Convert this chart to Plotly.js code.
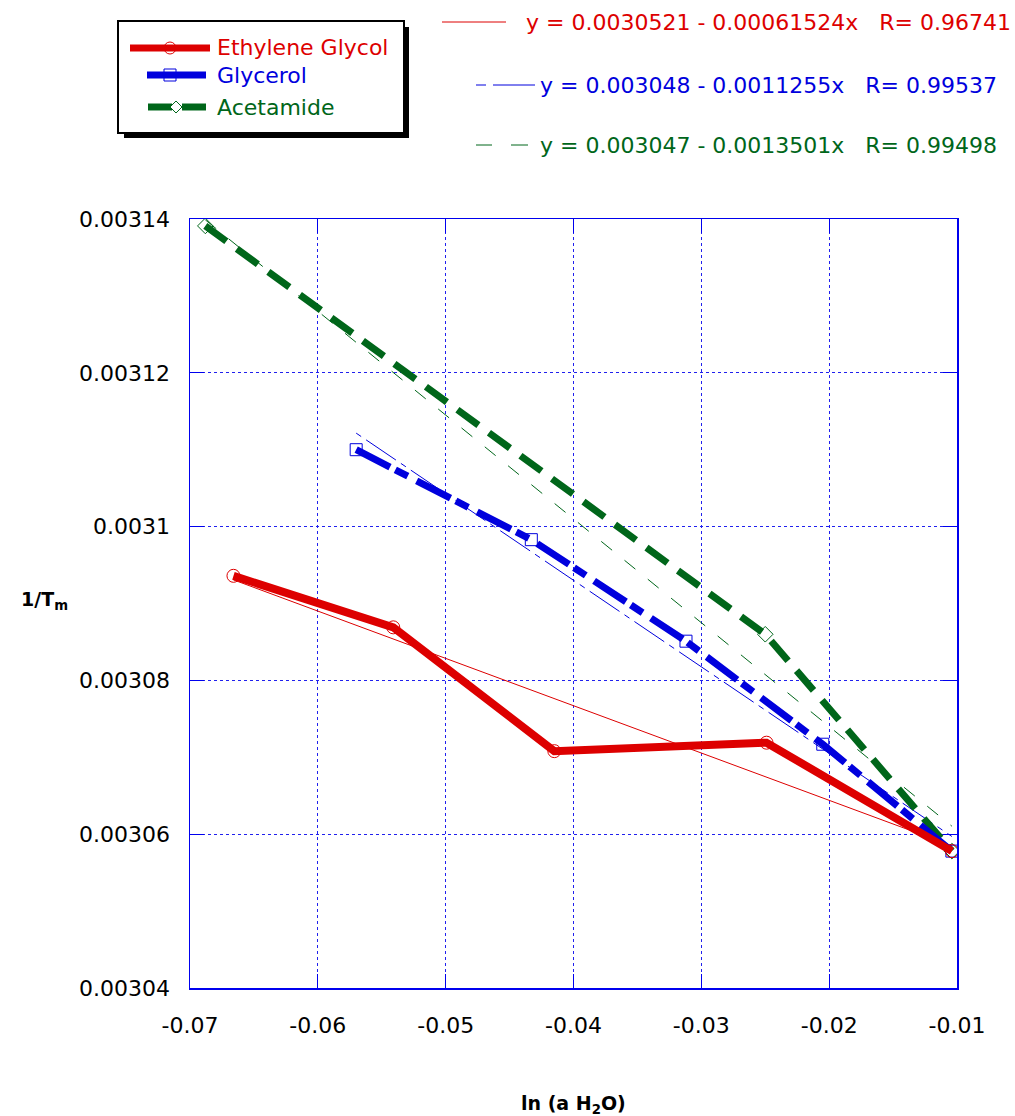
<!DOCTYPE html>
<html><head><meta charset="utf-8">
<script src="https://cdn.plot.ly/plotly-3.0.1.min.js"></script>
<style>html,body{margin:0;padding:0;background:#fff}</style>
</head><body><div id="chart" style="width:1015px;height:1116px"></div>
<script>
// ---- data ----
const seriesNames = ["Ethylene Glycol", "Glycerol", "Acetamide"];
const egX = [-0.0666, -0.0541, -0.0415, -0.0249, -0.0104];
const egY = [0.0030936, 0.0030869, 0.0030708, 0.0030719, 0.0030578];
const glX = [-0.0570, -0.0433, -0.0312, -0.0205, -0.0104];
const glY = [0.0031100, 0.0030983, 0.0030851, 0.0030717, 0.0030578];
const acX = [-0.0688, -0.0250, -0.0104];
const acY = [0.0031391, 0.0030860, 0.0030578];
const fitIntercept = [0.0030521, 0.003048, 0.003047];
const fitSlopeAbs = [0.00061524, 0.0011255, 0.0013501];
const fitR = [0.96741, 0.99537, 0.99498];
const xTicks = [-0.07, -0.06, -0.05, -0.04, -0.03, -0.02, -0.01];
const xTickText = ["-0.07", "-0.06", "-0.05", "-0.04", "-0.03", "-0.02", "-0.01"];
const yTicks = [0.00304, 0.00306, 0.00308, 0.0031, 0.00312, 0.00314];
const yTickText = ["0.00304", "0.00306", "0.00308", "0.0031", "0.00312", "0.00314"];

// ---- styling ----
const RED = "#dd0000", BLUE = "#0000dd", GREEN = "#00661a";
const colors = [RED, BLUE, GREEN];
const FONT = "DejaVu Sans, Liberation Sans, Arial, sans-serif";
const W = 1015, H = 1116, PL = 190, PT = 219, PW = 767, PH = 769;
const px = x => (x - PL) / PW;
const py = y => (PT + PH - y) / PH;

const xs = [egX, glX, acX];
const fitDash = ["solid", "6px,6px,36px,6px", "14px,16px"];
const traces = [];
// regression lines (thin), drawn from the stated equations over each series' range
for (let i = 0; i < 3; i++) {
  const x0 = Math.min(...xs[i]), x1 = Math.max(...xs[i]);
  traces.push({
    x: [x0, x1],
    y: [fitIntercept[i] - fitSlopeAbs[i] * x0, fitIntercept[i] - fitSlopeAbs[i] * x1],
    mode: "lines", line: {color: colors[i], width: 1, dash: fitDash[i]},
    showlegend: false, hoverinfo: "skip"
  });
}
traces.push({x: acX, y: acY, name: seriesNames[2], mode: "lines+markers",
  line: {color: GREEN, width: 7, dash: "26px,13px"},
  marker: {symbol: "diamond-open", size: 12, color: GREEN, line: {width: 1}}, showlegend: false});
traces.push({x: glX, y: glY, name: seriesNames[1], mode: "lines+markers",
  line: {color: BLUE, width: 7, dash: "38px,6px,14px,10px"},
  marker: {symbol: "square-open", size: 12, color: BLUE, line: {width: 1}}, showlegend: false});
traces.push({x: egX, y: egY, name: seriesNames[0], mode: "lines+markers",
  line: {color: RED, width: 8},
  marker: {symbol: "circle-open", size: 13, color: RED, line: {width: 1}}, showlegend: false});

const shapes = [];
const line = (x0, y0, x1, y1, color, width) => shapes.push({type: "line", xref: "paper", yref: "paper",
  x0: px(x0), y0: py(y0), x1: px(x1), y1: py(y1), line: {color: color, width: width}});
// legend box with shadow
shapes.push({type: "rect", xref: "paper", yref: "paper", x0: px(124), x1: px(409), y0: py(27), y1: py(138),
  fillcolor: "#000", line: {width: 0}});
shapes.push({type: "rect", xref: "paper", yref: "paper", x0: px(118), x1: px(404), y0: py(21), y1: py(133),
  fillcolor: "#fff", line: {color: "#000", width: 2}});
// legend samples
line(130, 48, 210, 48, RED, 7);
shapes.push({type: "circle", xref: "paper", yref: "paper", x0: px(164), x1: px(176), y0: py(42), y1: py(54),
  line: {color: RED, width: 1}});
line(147, 75, 206, 75, BLUE, 7);
shapes.push({type: "rect", xref: "paper", yref: "paper", x0: px(164), x1: px(176), y0: py(69), y1: py(81),
  line: {color: BLUE, width: 1}});
line(148, 107, 172, 107, GREEN, 7);
line(182, 107, 206, 107, GREEN, 7);
const dpath = `M${px(170)},${py(107)} L${px(176)},${py(101)} L${px(182)},${py(107)} L${px(176)},${py(113)} Z`;
shapes.push({type: "path", xref: "paper", yref: "paper", path: dpath, fillcolor: "#fff", line: {color: GREEN, width: 1}});
// equation samples
line(442, 22, 506, 22, RED, 1);
line(476, 85, 486, 85, BLUE, 1);
line(493, 85, 535, 85, BLUE, 1);
line(476, 145, 492, 145, GREEN, 1);
line(511, 145, 528, 145, GREEN, 1);

const sp = "\u00a0";
const annotations = [];
const legY = [48, 75, 107];
for (let i = 0; i < 3; i++) {
  annotations.push({xref: "paper", yref: "paper", x: px(215), y: py(legY[i]), xanchor: "left", yanchor: "middle",
    text: seriesNames[i], showarrow: false, font: {family: FONT, size: 22, color: colors[i]}});
}
const eqX = [524, 538, 538], eqY = [22, 85, 145];
for (let i = 0; i < 3; i++) {
  annotations.push({xref: "paper", yref: "paper", x: px(eqX[i]), y: py(eqY[i]), xanchor: "left", yanchor: "middle",
    text: `y${sp}=${sp}${fitIntercept[i]}${sp}-${sp}${fitSlopeAbs[i]}x${sp}${sp}${sp}R=${sp}${fitR[i]}`,
    showarrow: false, font: {family: FONT, size: 22, color: colors[i]}});
}
annotations.push({xref: "paper", yref: "paper", x: px(44), y: py(600), xanchor: "center", yanchor: "middle",
  text: "<b>1/T<sub>m</sub></b>", showarrow: false, font: {family: FONT, size: 19, color: "#000"}});
annotations.push({xref: "paper", yref: "paper", x: px(573), y: py(1104), xanchor: "center", yanchor: "middle",
  text: "<b>ln (a H<sub>2</sub>O)</b>", showarrow: false, font: {family: FONT, size: 19, color: "#000"}});

const axisCommon = {
  showline: true, linecolor: "#0000ee", linewidth: 1.5, mirror: "all",
  ticks: "inside", ticklen: 14, tickcolor: "#0000ee", tickwidth: 1,
  showgrid: true, gridcolor: "#2020ee", gridwidth: 1, griddash: "3px,3px",
  zeroline: false, tickfont: {family: FONT, size: 22, color: "#000"}
};
const layout = {
  width: W, height: H, paper_bgcolor: "#fff", plot_bgcolor: "#fff",
  margin: {l: PL, r: W - PL - PW, t: PT, b: H - PT - PH, pad: 0},
  showlegend: false,
  xaxis: Object.assign({}, axisCommon, {range: [-0.07, -0.01], tickmode: "array", tickvals: xTicks, ticktext: xTickText,
    ticklabelstandoff: 17}),
  yaxis: Object.assign({}, axisCommon, {range: [0.00304, 0.00314], tickmode: "array", tickvals: yTicks, ticktext: yTickText,
    ticklabelstandoff: 14}),
  shapes: shapes, annotations: annotations
};
Plotly.newPlot("chart", traces, layout, {displayModeBar: false, staticPlot: true});
</script>
</body></html>
